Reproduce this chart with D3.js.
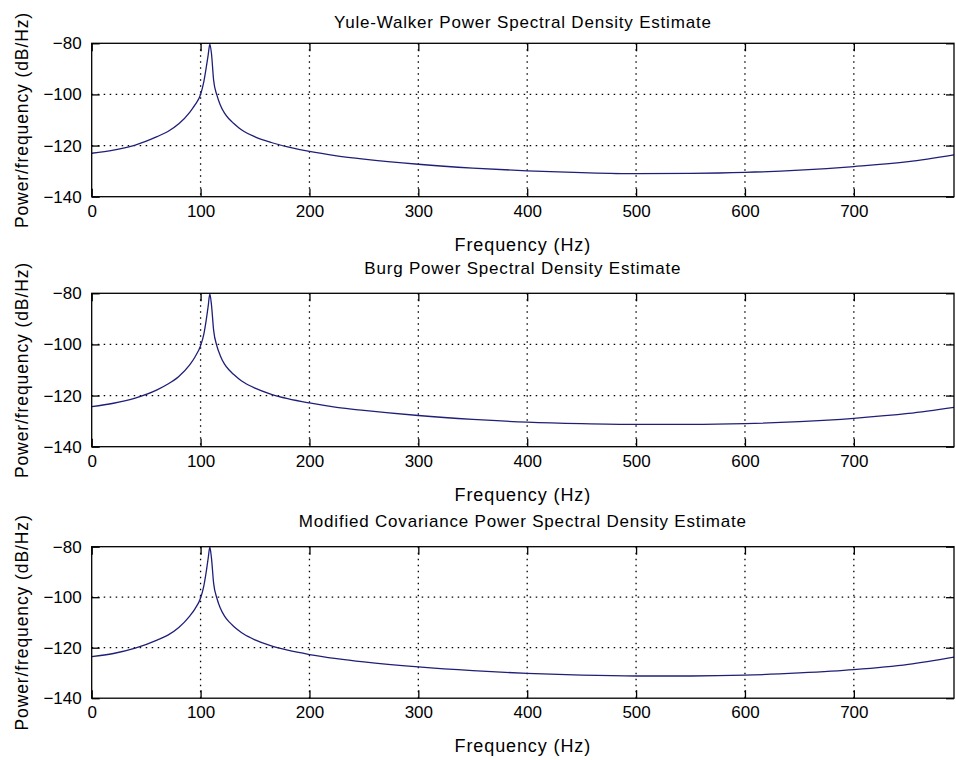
<!DOCTYPE html>
<html>
<head>
<meta charset="UTF-8">
<title>PSD estimates</title>
<style>
  body { margin: 0; background: #fff; }
  text { font-family: "Liberation Sans", Arial, sans-serif; fill: #000; }
</style>
</head>
<body>
<div id="svg"></div>
<script src="https://d3js.org/d3.v7.min.js"></script>
<script>
// frequency points (Hz), denser around the resonance
var freq = [0, 20, 40, 60, 70, 80, 90, 95, 100, 103, 105, 107, 108.5, 110, 112, 115, 118, 122, 126,
            130, 135, 140, 150, 165, 180, 200, 225, 250, 300, 350, 400, 450, 500, 550, 600, 650, 700, 750, 792];

// PSD values (dB/Hz)
var yuleWalker = [-123, -121.8, -119.8, -116.5, -114.5, -111.5, -107, -104, -100, -95, -90, -84.5, -80.3, -84, -94.5, -100.3, -104, -107.3, -109.5,
                  -111.2, -113, -114.5, -116.6, -118.8, -120.5, -122.3, -124, -125.3, -127.3, -128.8, -129.9, -130.6, -131, -130.9, -130.5, -129.6, -128.2, -126.3, -123.6];
var burg = [-124.3, -123, -121, -117.8, -115.5, -112.5, -108, -104.8, -100.5, -96, -91, -85, -80.2, -84.5, -94.5, -100.6, -104.3, -107.7, -109.9,
            -111.6, -113.4, -114.9, -117.1, -119.5, -121.2, -122.9, -124.6, -125.8, -127.8, -129.3, -130.4, -131, -131.3, -131.3, -131, -130.2, -128.9, -127, -124.6];
var modCov = [-123.5, -122.3, -120.2, -117, -115, -112, -107.5, -104.5, -100.3, -95.5, -90.5, -84.5, -80.2, -84.5, -94.5, -100.4, -104.2, -107.5, -109.7,
              -111.4, -113.2, -114.7, -116.9, -119.3, -121, -122.7, -124.3, -125.6, -127.6, -129.1, -130.2, -130.9, -131.2, -131.2, -130.9, -130, -128.7, -126.6, -123.7];

var titles = ["Yule-Walker Power Spectral Density Estimate",
              "Burg Power Spectral Density Estimate",
              "Modified Covariance Power Spectral Density Estimate"];
var xTicks = [0, 100, 200, 300, 400, 500, 600, 700];
var yTicks = [-140, -120, -100, -80];
var xGrid = [100, 200, 300, 400, 500, 600, 700];
var yGrid = [-120, -100];
var xLabel = "Frequency (Hz)";
var yLabel = "Power/frequency (dB/Hz)";

var width = 956, height = 760;
var left = 91.7, right = 954;
var panels = [
  { top: 43.3, h: 153.4, titleY: 28, series: yuleWalker },
  { top: 293.3, h: 153.4, titleY: 274, series: burg },
  { top: 546.7, h: 151.5, titleY: 527, series: modCov }
];

var svg = d3.select("#svg").append("svg")
  .attr("width", width)
  .attr("height", height);

var x = d3.scaleLinear().domain([0, 792]).range([0, right - left]);

panels.forEach(function (p, i) {
  var w = right - left;
  var y = d3.scaleLinear().domain([-140, -80]).range([p.h, 0]);
  var g = svg.append("g").attr("transform", "translate(" + left + "," + p.top + ")");

  g.append("clipPath").attr("id", "clip" + i)
    .append("rect").attr("width", w).attr("height", p.h);

  // dotted grid
  g.selectAll(".vg").data(xGrid).join("line")
    .attr("x1", d => x(d)).attr("x2", d => x(d))
    .attr("y1", 0).attr("y2", p.h)
    .attr("stroke", "#000").attr("stroke-width", 1.3)
    .attr("stroke-dasharray", "1.5,4.5");
  g.selectAll(".hg").data(yGrid).join("line")
    .attr("x1", 0).attr("x2", w)
    .attr("y1", d => y(d)).attr("y2", d => y(d))
    .attr("stroke", "#000").attr("stroke-width", 1.3)
    .attr("stroke-dasharray", "1.5,4.5");

  // curve
  var line = d3.line()
    .x(function (d, k) { return x(freq[k]); })
    .y(function (d) { return y(d); })
    .curve(d3.curveMonotoneX);
  g.append("path")
    .datum(p.series)
    .attr("clip-path", "url(#clip" + i + ")")
    .attr("fill", "none")
    .attr("stroke", "#1f1f78")
    .attr("stroke-width", 1.3)
    .attr("d", line);

  // axes with inward ticks on all four sides
  g.append("g").attr("transform", "translate(0," + p.h + ")")
    .call(d3.axisBottom(x).tickValues(xTicks).tickSize(-8).tickSizeOuter(0).tickPadding(8).tickFormat(d3.format("d")));
  g.append("g")
    .call(d3.axisTop(x).tickValues(xTicks).tickSize(-8).tickSizeOuter(0).tickFormat(""));
  var ay = g.append("g")
    .call(d3.axisLeft(y).tickValues(yTicks).tickSize(-8).tickSizeOuter(0).tickPadding(10).tickFormat(d3.format("d")));
  g.append("g").attr("transform", "translate(" + w + ",0)")
    .call(d3.axisRight(y).tickValues(yTicks).tickSize(-8).tickSizeOuter(0).tickFormat(""));
  g.selectAll(".domain").remove();
  g.selectAll(".tick line").attr("stroke", "#000").attr("stroke-width", 1.3);
  g.selectAll(".tick text")
    .style("font-size", "17px")
    .attr("fill", "#000");
  ay.selectAll(".tick text").attr("x", -10);

  g.append("rect")
    .attr("width", w).attr("height", p.h)
    .attr("fill", "none").attr("stroke", "#000").attr("stroke-width", 1.3);

  // texts
  svg.append("text")
    .attr("x", left + w / 2).attr("y", p.titleY)
    .attr("text-anchor", "middle")
    .style("font-size", "17px").style("letter-spacing", "0.8px")
    .text(titles[i]);
  svg.append("text")
    .attr("x", left + w / 2).attr("y", p.top + p.h + 54)
    .attr("text-anchor", "middle")
    .style("font-size", "18px").style("letter-spacing", "0.9px")
    .text(xLabel);
  svg.append("text")
    .attr("transform", "translate(28," + (p.top + p.h / 2) + ") rotate(-90)")
    .attr("text-anchor", "middle")
    .style("font-size", "17.5px").style("letter-spacing", "0.9px")
    .text(yLabel);
});
</script>
</body>
</html>
